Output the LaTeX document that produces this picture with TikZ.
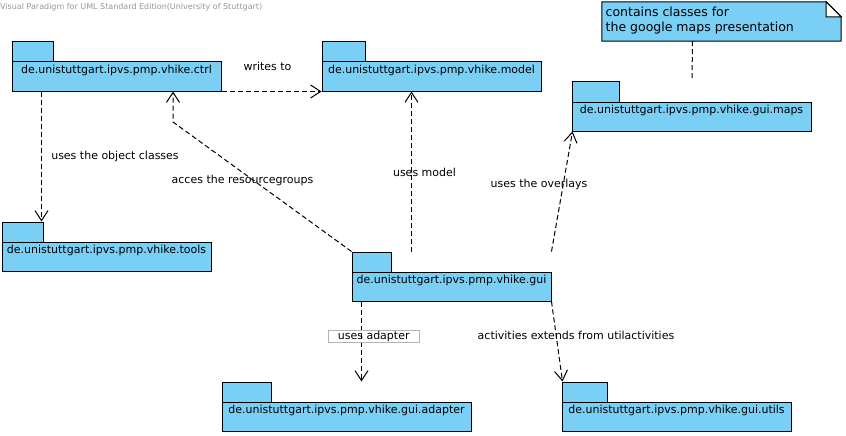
\documentclass[tikz,border=0pt]{standalone}
\usepackage{fontspec}
\setmainfont{DejaVu Sans}
\usetikzlibrary{arrows.meta,fit,calc}
\definecolor{pkgblue}{RGB}{122,207,245}
\definecolor{hdrgray}{RGB}{150,150,150}
\definecolor{boxgray}{RGB}{180,180,180}
\tikzset{
  pkgshape/.style={draw=black, fill=pkgblue, line width=1pt, inner sep=0pt},
  pkgtext/.style={font=\fontsize{11}{13}\selectfont, inner sep=0pt, anchor=base},
  dep/.style={line width=1pt, dash pattern=on 5pt off 3pt, -{Straight Barb[length=10pt,width=13pt]}},
  notelink/.style={line width=1pt, dash pattern=on 5pt off 3pt},
  lbl/.style={font=\fontsize{11}{13}\selectfont, inner sep=0pt},
  notetext/.style={font=\fontsize{12.5}{15}\selectfont, inner sep=0pt, anchor=base west},
}
\newcommand\umlpkg[7]{%
  \node[pkgshape, fit={(#2,#3) (#4,#3+20)}] (#1tab) {};
  \node[pkgshape, fit={(#2,#3+20) (#5,#6)}] (#1) {};
  \node[pkgtext] (#1label) at ([yshift=-12pt]#1.north) {#7};
}
\begin{document}
\begin{tikzpicture}[x=1pt,y=-1pt]
\useasboundingbox (0,0) rectangle (846,436);
\node[anchor=west, inner sep=0pt, text=hdrgray, font=\fontsize{8}{9}\selectfont] (hdr) at (0,7) {Visual Paradigm for UML Standard Edition(University of Stuttgart)};

% note
\node[inner sep=0pt, fit={(602,2) (841,41)}] (note) {};
\draw[line width=1pt, fill=pkgblue] (note.north west) -- ([xshift=-15pt]note.north east) -- ([yshift=-15pt]note.north east) -- (note.south east) -- (note.south west) -- cycle;
\draw[line width=1pt, fill=white] ([xshift=-15pt]note.north east) -- ([xshift=-15pt,yshift=-15pt]note.north east) -- ([yshift=-15pt]note.north east) -- cycle;
\node[notetext] (notel1) at (605.5,17) {contains classes for};
\node[notetext] (notel2) at (605.5,32) {the google maps presentation};

% packages
\umlpkg{ctrl}{12}{42}{53}{221}{91}{de.unistuttgart.ipvs.pmp.vhike.ctrl}
\umlpkg{model}{322}{42}{365}{541}{91}{de.unistuttgart.ipvs.pmp.vhike.model}
\umlpkg{maps}{572}{82}{619}{811}{131}{de.unistuttgart.ipvs.pmp.vhike.gui.maps}
\umlpkg{tools}{2}{222}{43}{211}{271}{de.unistuttgart.ipvs.pmp.vhike.tools}
\umlpkg{gui}{352}{252}{391}{551}{301}{de.unistuttgart.ipvs.pmp.vhike.gui}
\umlpkg{adapter}{222}{382}{271}{471}{431}{de.unistuttgart.ipvs.pmp.vhike.gui.adapter}
\umlpkg{utils}{562}{382}{607}{791}{431}{de.unistuttgart.ipvs.pmp.vhike.gui.utils}

% note link
\coordinate (n1) at ([xshift=-29pt]note.south);
\coordinate (n2) at (692,79);
\draw[notelink] (n1) -- (n2);

% dependencies
\coordinate (c1) at ([xshift=30pt]ctrl.south west);
\draw[dep] (c1) -- (c1 |- toolstab.north);
\draw[dep] (ctrl.south east) -- (model.south west);
\coordinate (bend) at (173,122);
\draw[dep] (guitab.north west) -- (bend) -- (bend |- ctrl.south);
\coordinate (c3) at ([xshift=60pt]guitab.north west);
\draw[dep] (c3) -- (c3 |- model.south);
\draw[dep] (guitab.north -| gui.east) -- ([xshift=1pt]maps.south west);
\coordinate (c5) at ([xshift=10pt]gui.south west);
\draw[dep] (c5) -- (c5 |- adaptertab.north);
\draw[dep] (gui.south east) -- ([xshift=1pt]utilstab.north west);

% labels
\node[lbl] (l1) at (267.5,66) {writes to};
\node[lbl] (l2) at (115,156) {uses the object classes};
\node[lbl] (l3) at (242.5,180) {acces the resourcegroups};
\node[lbl] (l4) at (424.5,172) {uses model};
\node[lbl] (l5) at (539,184) {uses the overlays};
\node[lbl, draw=boxgray, line width=1pt, minimum width=91pt, minimum height=12pt] (l6) at (373.7,336) {uses adapter};
\node[lbl] (l7) at (576,335) {activities extends from utilactivities};
\end{tikzpicture}
\end{document}
